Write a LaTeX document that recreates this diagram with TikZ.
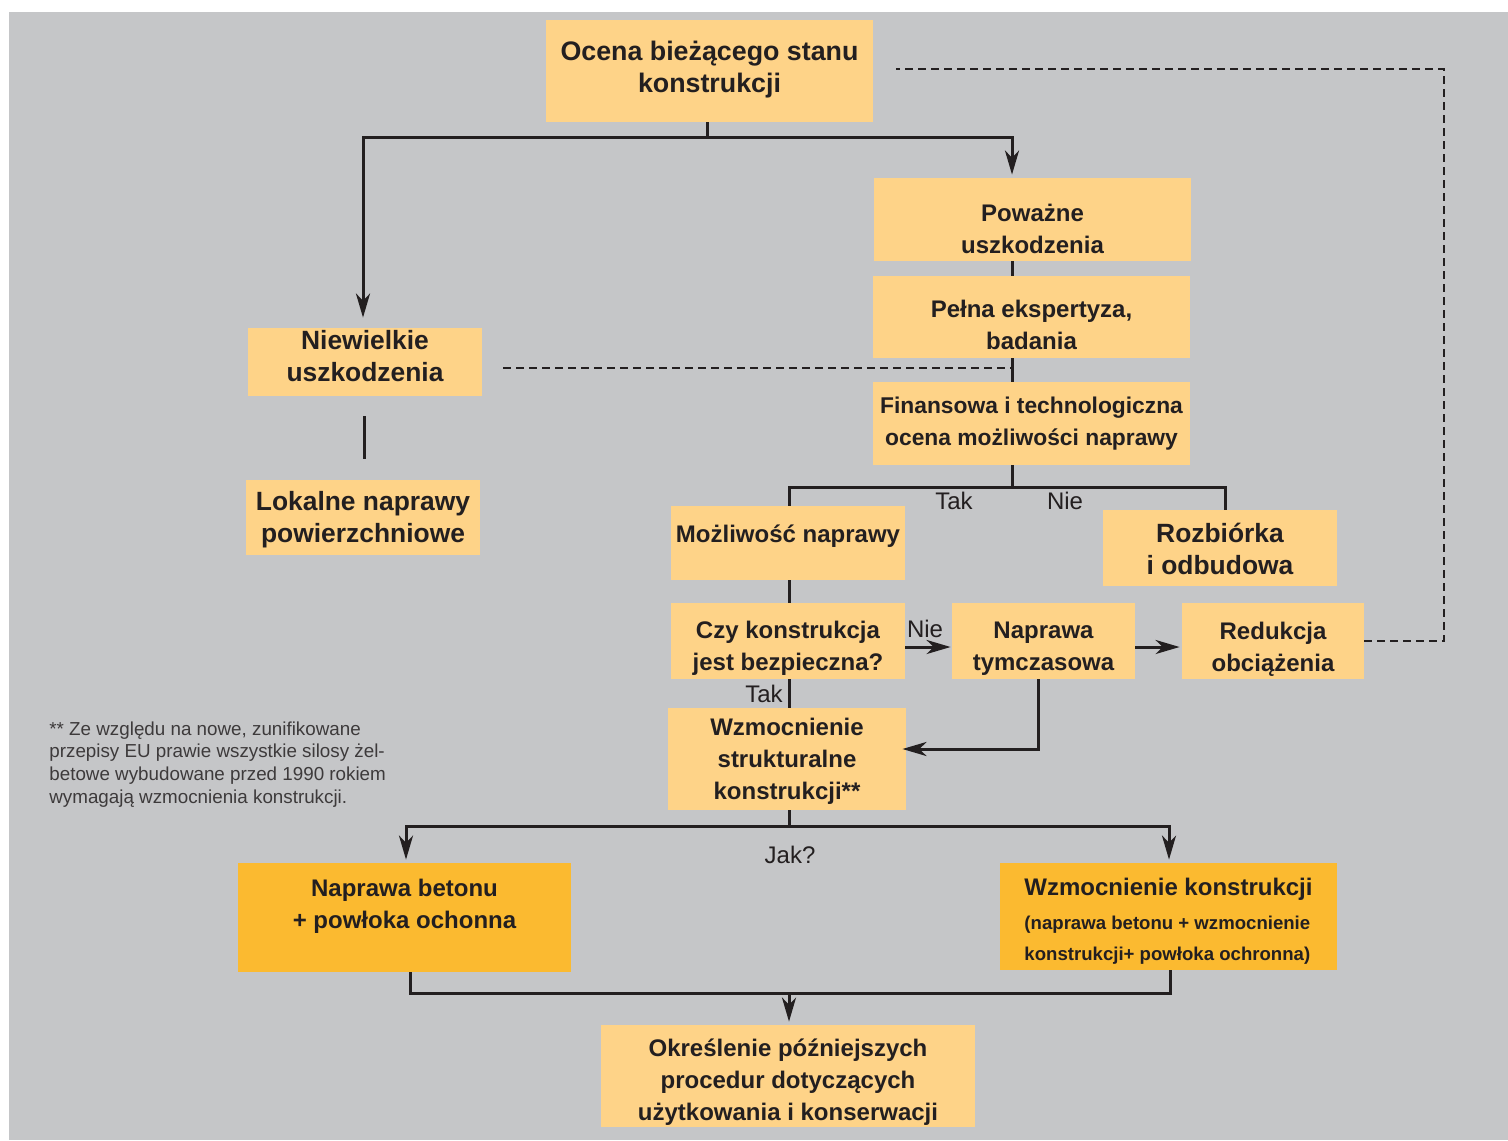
\documentclass[tikz,border=0pt]{standalone}
\usepackage{fontspec}
\setmainfont{Liberation Sans}
\usetikzlibrary{arrows.meta,calc}
\definecolor{bg}{HTML}{C5C6C8}
\definecolor{boxlight}{HTML}{FED388}
\definecolor{boxdark}{HTML}{FBBA30}
\definecolor{txt}{HTML}{231F20}
\definecolor{ln}{HTML}{231F20}
\begin{document}
\begin{tikzpicture}[x=0.5pt,y=-0.5pt,
  box/.style={fill=boxlight, inner sep=0pt},
  darkbox/.style={box, fill=boxdark},
  lab/.style={align=center, text=txt, inner sep=0pt, font=\bfseries\fontsize{12}{16}\selectfont},
  biglab/.style={lab, font=\bfseries\fontsize{13.2}{16}\selectfont},
  conn/.style={draw=ln, line width=1.5pt},
  arr/.style={conn, -{Stealth[length=12pt,width=7pt,inset=3.5pt]}},
  dsh/.style={draw=ln, line width=1.2pt, dash pattern=on 4pt off 2.5pt},
  lbl/.style={text=txt, font=\fontsize{12}{14}\selectfont, inner sep=0pt},
  note/.style={text=txt!88, font=\fontsize{9.4}{11.35}\selectfont, align=left, inner sep=0pt}]
\useasboundingbox (0,0) rectangle (1508,1140);
\fill[bg] (9,12) rectangle (1508,1140);

% boxes
\node[box, minimum width=163.5pt, minimum height=51pt,
  label={[lab, font=\bfseries\fontsize{13.4}{16}\selectfont, yshift=0.5pt]center:{Ocena bieżącego stanu\\konstrukcji}}] (ocena) at (709.5,71) {};
\node[box, minimum width=158.5pt, minimum height=41.5pt,
  label={[lab, yshift=-4.5pt]center:{Poważne\\uszkodzenia}}] (powazne) at (1032.5,219.5) {};
\node[box, minimum width=158.5pt, minimum height=41pt,
  label={[lab, yshift=-4pt]center:{Pełna ekspertyza,\\badania}}] (pelna) at (1031.5,317) {};
\node[box, minimum width=158.5pt, minimum height=41.5pt,
  label={[lab, font=\bfseries\fontsize{11.4}{16}\selectfont, yshift=-0.25pt]center:{Finansowa i technologiczna\\ocena możliwości naprawy}}] (finans) at (1031.5,423.5) {};
\node[box, minimum width=117pt, minimum height=34pt,
  label={[biglab, yshift=3pt]center:{Niewielkie\\uszkodzenia}}] (niew) at (365,362) {};
\node[box, minimum width=117pt, minimum height=37.5pt,
  label={[biglab, yshift=-1pt]center:{Lokalne naprawy\\powierzchniowe}}] (lokal) at (363,517.5) {};
\node[box, minimum width=117pt, minimum height=37pt,
  label={[lab, yshift=3.5pt]center:{Możliwość naprawy}}] (mozl) at (788,543) {};
\node[box, minimum width=117pt, minimum height=38pt,
  label={[biglab, yshift=-0.5pt]center:{Rozbiórka\\i odbudowa}}] (rozb) at (1220,548) {};
\node[box, minimum width=117pt, minimum height=38pt,
  label={[lab, yshift=-3.5pt]center:{Czy konstrukcja\\jest bezpieczna?}}] (czy) at (788,641) {};
\node[box, minimum width=91.5pt, minimum height=38pt,
  label={[lab, yshift=-4pt]center:{Naprawa\\tymczasowa}}] (napt) at (1043.5,641) {};
\node[box, minimum width=91pt, minimum height=38pt,
  label={[lab, yshift=-4pt]center:{Redukcja\\obciążenia}}] (redu) at (1273,641) {};
\node[box, minimum width=119pt, minimum height=51pt,
  label={[lab, yshift=-1pt]center:{Wzmocnienie\\strukturalne\\konstrukcji**}}] (wzms) at (787,759) {};
\node[darkbox, minimum width=166.5pt, minimum height=54.5pt,
  label={[lab, yshift=5.75pt]center:{Naprawa betonu\\+ powłoka ochonna}}] (napb) at (404.5,917.5) {};
\node[darkbox, minimum width=168.5pt, minimum height=53.5pt,
  label={[lab, yshift=-2.5pt]center:{\begin{tabular}{@{}l@{}}Wzmocnienie konstrukcji\\[1pt]
  {\fontsize{9.3}{15.5}\selectfont(naprawa betonu + wzmocnienie}\\[-0.5pt]
  {\fontsize{9.3}{15.5}\selectfont konstrukcji+ powłoka ochronna)}\end{tabular}}}] (wzmk) at (1168.5,916.5) {};
\node[box, minimum width=187pt, minimum height=51pt,
  label={[lab, yshift=-3pt]center:{Określenie późniejszych\\procedur dotyczących\\użytkowania i konserwacji}}] (okre) at (788,1076) {};

% connectors
\coordinate (spine) at (1012,0);
\coordinate (j1) at (707,137);
\draw[conn] (ocena.south -| j1) -- (j1);
\draw[arr, shorten >=5pt] (j1) -| ($(niew.north)+(-2,0)$);
\draw[arr, shorten >=1.5pt] (j1) -| (powazne.north -| spine);
\draw[conn] (powazne.south -| spine) -- (pelna.north -| spine);
\draw[conn] (pelna.south -| spine) -- (finans.north -| spine);
\coordinate (dj) at (1012,368);
\draw[dsh] ($(niew.east)+(21,6)$) -- (dj);
\draw[conn, shorten <=10pt, shorten >=10.5pt] ($(niew.south)+(-1,0)$) -- ($(lokal.north)+(1,0)$);
\coordinate (j2) at (1012,487);
\draw[conn] (finans.south -| spine) -- (j2);
\draw[conn] (j2) -| ($(mozl.north)+(1,0)$);
\draw[conn] (j2) -| ($(rozb.north)+(5,0)$);
\node[lbl] (tak1) at (954,501) {Tak};
\node[lbl] (nie1) at (1065,501) {Nie};
\draw[conn] ($(mozl.south)+(1,0)$) -- ($(czy.north)+(1,0)$);
\draw[arr, shorten >=0.5pt] ($(czy.east)+(0,6)$) -- ($(napt.west)+(0,6)$);
\node[lbl] (nie2) at (925,629) {Nie};
\draw[arr, shorten >=1pt] ($(napt.east)+(0,6)$) -- ($(redu.west)+(0,6)$);
\coordinate (dr) at (1444,69);
\draw[dsh] (redu.east) -| (dr) -- ($(ocena.east |- dr)+(23,0)$);
\draw[conn] ($(czy.south)+(1,0)$) -- ($(wzms.north)+(2,0)$);
\node[lbl] (tak2) at (764,694) {Tak};
\draw[arr, shorten >=-2pt] ($(napt.south)+(-5,0)$) |- ($(wzms.east)+(0,-10)$);
\coordinate (j3) at (789,826);
\draw[conn] (wzms.south -| j3) -- (j3);
\draw[arr, shorten >=1.5pt] (j3) -| ($(napb.north)+(1.5,0)$);
\draw[arr, shorten >=1.5pt] (j3) -| ($(wzmk.north)+(0.5,0)$);
\node[lbl] (jak) at (790,855) {Jak?};
\coordinate (j4) at (789,993);
\draw[conn] ($(napb.south)+(5.5,0)$) |- (j4) -| ($(wzmk.south)+(1.5,0)$);
\draw[arr, shorten >=1.5pt] (j4) -- (okre.north -| j4);

% footnote
\node[note, anchor=north west] (fn) at (49,721) {** Ze względu na nowe, zunifikowane\\przepisy EU prawie wszystkie silosy żel-\\betowe wybudowane przed 1990 rokiem\\wymagają wzmocnienia konstrukcji.};
\end{tikzpicture}
\end{document}
